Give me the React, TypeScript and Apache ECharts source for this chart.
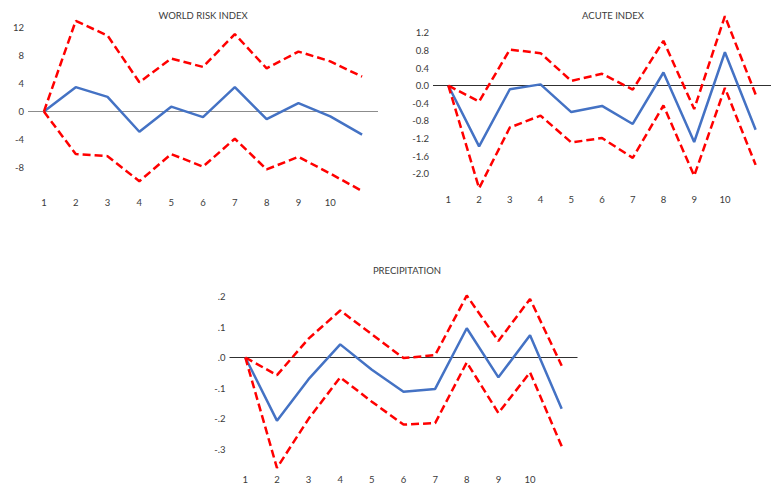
import React, { useEffect, useRef } from "react";
import * as echarts from "echarts";

// Periods shown on every panel (the last point carries no label)
const periods = ["1", "2", "3", "4", "5", "6", "7", "8", "9", "10", ""];

// WORLD RISK INDEX
const wriEstimate = [0, 3.5, 2.1, -2.9, 0.7, -0.8, 3.5, -1.1, 1.2, -0.7, -3.3];
const wriUpper = [0, 13.0, 10.9, 4.2, 7.6, 6.4, 11.1, 6.2, 8.6, 7.2, 5.0];
const wriLower = [0, -6.1, -6.4, -10.0, -6.1, -7.9, -3.9, -8.3, -6.5, -8.9, -11.4];

// ACUTE INDEX
const acuteEstimate = [0, -1.38, -0.08, 0.03, -0.6, -0.46, -0.87, 0.3, -1.28, 0.76, -1.0];
const acuteUpper = [0, -0.36, 0.82, 0.74, 0.11, 0.27, -0.09, 1.02, -0.53, 1.58, -0.2];
const acuteLower = [0, -2.33, -0.95, -0.68, -1.29, -1.19, -1.64, -0.45, -2.05, -0.05, -1.8];

// PRECIPITATION
const precipEstimate = [0, -0.207, -0.071, 0.043, -0.04, -0.112, -0.103, 0.096, -0.065, 0.073, -0.168];
const precipUpper = [0, -0.058, 0.062, 0.154, 0.076, -0.002, 0.008, 0.203, 0.054, 0.192, -0.027];
const precipLower = [0, -0.362, -0.201, -0.065, -0.145, -0.22, -0.215, -0.016, -0.182, -0.049, -0.291];

const BLUE = "#4472C4";
const RED = "#FF0000";
const TEXT = "#3a3a3a";
const FONT = "Lato, 'Liberation Sans', sans-serif";

function near(a: number, b: number) {
  return Math.abs(a - b) < 1e-9;
}

export default function App() {
  const ref = useRef<HTMLDivElement>(null);

  useEffect(() => {
    if (!ref.current) return;
    const chart = echarts.init(ref.current, undefined, { renderer: "svg" });

    const grids = [
      { left: 28, top: -3.6, width: 350, height: 198.8 },
      { left: 433, top: 15.3, width: 349, height: 176 },
      { left: 229.5, top: 266, width: 348, height: 213.5 },
    ];

    const xAxisBase = (gridIndex: number, margin: number, offset: number) => ({
      type: "category" as const,
      gridIndex,
      data: periods,
      boundaryGap: true,
      offset,
      axisLine: { show: false },
      axisTick: { show: false },
      splitLine: { show: false },
      axisLabel: { color: TEXT, fontFamily: FONT, fontSize: 9.5, margin, interval: 0 },
    });

    const yAxisBase = (
      gridIndex: number,
      min: number,
      max: number,
      interval: number,
      fmt: (v: number) => string
    ) => ({
      type: "value" as const,
      gridIndex,
      min,
      max,
      interval,
      axisLine: { show: false },
      axisTick: { show: false },
      splitLine: { show: false },
      axisLabel: {
        color: TEXT,
        fontFamily: FONT,
        fontSize: 9.5,
        margin: 4,
        showMinLabel: true,
        showMaxLabel: true,
        formatter: (v: number) => (near(v, min) || near(v, max) ? "" : fmt(v)),
      },
    });

    const makeSeries = (
      idx: number,
      est: number[],
      up: number[],
      lo: number[],
      zeroColor: string
    ) => [
      {
        type: "line",
        xAxisIndex: idx,
        yAxisIndex: idx,
        data: up,
        showSymbol: false,
        lineStyle: { color: RED, width: 2.5, type: [8, 4] },
        z: 3,
      },
      {
        type: "line",
        xAxisIndex: idx,
        yAxisIndex: idx,
        data: lo,
        showSymbol: false,
        lineStyle: { color: RED, width: 2.5, type: [8, 4] },
        z: 3,
      },
      {
        type: "line",
        xAxisIndex: idx,
        yAxisIndex: idx,
        data: est,
        showSymbol: false,
        lineStyle: { color: BLUE, width: 2.5 },
        z: 2,
        markLine: {
          silent: true,
          symbol: ["none", "none"],
          label: { show: false },
          lineStyle: { color: zeroColor, width: 1.2, type: "solid" },
          data: [{ yAxis: 0 }],
          z: 1,
        },
      },
    ];

    const titleBase = (text: string, left: number, top: number) => ({
      text,
      left,
      top,
      textAlign: "center" as const,
      textStyle: { color: TEXT, fontFamily: FONT, fontSize: 9.5, fontWeight: "normal" as const },
    });

    chart.setOption({
      animation: false,
      backgroundColor: "#ffffff",
      title: [
        titleBase("WORLD RISK INDEX", 198, 5),
        titleBase("ACUTE INDEX", 608, 5),
        titleBase("PRECIPITATION", 402, 260),
      ],
      grid: grids,
      xAxis: [xAxisBase(0, 2, 0), xAxisBase(1, 3, 0), xAxisBase(2, 2, -7.5)],
      yAxis: [
        yAxisBase(0, -12, 16, 4, (v) => String(Math.round(v))),
        yAxisBase(1, -2.4, 1.6, 0.4, (v) => {
          const r = Math.round(v * 10) / 10;
          return (near(r, 0) ? 0 : r).toFixed(1);
        }),
        yAxisBase(2, -0.4, 0.3, 0.1, (v) => {
          const r = Math.round(v * 10) / 10;
          return (near(r, 0) ? 0 : r).toFixed(1).replace("0.", ".");
        }),
      ],
      series: [
        ...makeSeries(0, wriEstimate, wriUpper, wriLower, "#8c8c8c"),
        ...makeSeries(1, acuteEstimate, acuteUpper, acuteLower, "#303030"),
        ...makeSeries(2, precipEstimate, precipUpper, precipLower, "#303030"),
      ],
    });

    return () => chart.dispose();
  }, []);

  return (
    <div
      ref={ref}
      style={{ position: "fixed", left: 0, top: 0, width: 771, height: 489, background: "#fff" }}
    />
  );
}
